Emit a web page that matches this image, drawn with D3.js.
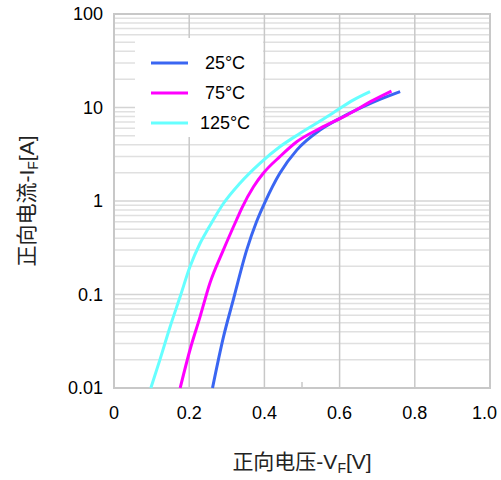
<!DOCTYPE html>
<html>
<head>
<meta charset="utf-8">
<style>
  body { margin: 0; background: #fff; }
  text { font-family: "Liberation Sans", Arial, "Noto Sans CJK SC", sans-serif; }
</style>
</head>
<body>
<div id="chart"></div>
<script src="https://d3js.org/d3.v7.min.js"></script>
<script>
  // forward voltage [V] / forward current [A]
  var v25 = [0.262, 0.291, 0.317, 0.353, 0.379, 0.402, 0.441, 0.486, 0.548, 0.601, 0.663, 0.707, 0.761];
  var i25 = [0.01, 0.035, 0.087, 0.30, 0.60, 0.98, 1.98, 3.5, 5.74, 7.66, 10.2, 12.2, 14.8];

  var v75 = [0.176, 0.202, 0.229, 0.255, 0.291, 0.326, 0.340, 0.371, 0.397, 0.441, 0.486, 0.548, 0.619, 0.690, 0.738];
  var i75 = [0.01, 0.0255, 0.058, 0.132, 0.30, 0.63, 0.84, 1.42, 1.98, 2.98, 4.3, 5.99, 8.3, 12.0, 15.0];

  var v125 = [0.098, 0.122, 0.149, 0.176, 0.202, 0.229, 0.251, 0.269, 0.291, 0.335, 0.388, 0.441, 0.495, 0.574, 0.601, 0.636, 0.681];
  var i125 = [0.01, 0.02, 0.045, 0.095, 0.198, 0.353, 0.51, 0.68, 0.94, 1.55, 2.53, 3.8, 5.3, 8.3, 9.8, 12.0, 14.8];

  var seriesNames = ["25°C", "75°C", "125°C"];
  var seriesColors = ["#3a66f2", "#ff00ff", "#66ffff"];

  var xTicks = [0, 0.2, 0.4, 0.6, 0.8, 1.0];
  var xTickLabels = ["0", "0.2", "0.4", "0.6", "0.8", "1.0"];
  var yTicks = [0.01, 0.1, 1, 10, 100];
  var yTickLabels = ["0.01", "0.1", "1", "10", "100"];

  var series = [
    { name: seriesNames[0], color: seriesColors[0], v: v25, i: i25 },
    { name: seriesNames[1], color: seriesColors[1], v: v75, i: i75 },
    { name: seriesNames[2], color: seriesColors[2], v: v125, i: i125 }
  ];

  var margin = { top: 14, right: 11, bottom: 92, left: 114 },
    width = 501 - margin.left - margin.right,
    height = 480 - margin.top - margin.bottom;

  var svg = d3.select("#chart").append("svg")
    .attr("width", 501)
    .attr("height", 480)
    .append("g")
    .attr("transform", "translate(" + margin.left + "," + margin.top + ")");

  var x = d3.scaleLinear().domain([0, 1]).range([0, width]);
  var y = d3.scaleLog().domain([0.01, 100]).range([height, 0]);

  // minor horizontal grid (2..9 of each decade)
  var minor = [];
  for (var d = 0.01; d < 100; d *= 10) {
    for (var k = 2; k <= 9; k++) minor.push(d * k);
  }
  svg.append("g").selectAll("line")
    .data(minor)
    .enter().append("line")
    .attr("x1", 0).attr("x2", width)
    .attr("y1", function(d) { return y(d); })
    .attr("y2", function(d) { return y(d); })
    .style("stroke", "#e0e0e0")
    .style("stroke-width", 1.5);

  // major horizontal grid
  svg.append("g").selectAll("line")
    .data(yTicks)
    .enter().append("line")
    .attr("x1", 0).attr("x2", width)
    .attr("y1", function(d) { return y(d); })
    .attr("y2", function(d) { return y(d); })
    .style("stroke", "#d4d4d4")
    .style("stroke-width", 1.5);

  // vertical grid
  svg.append("g").selectAll("line")
    .data(xTicks)
    .enter().append("line")
    .attr("x1", function(d) { return x(d); })
    .attr("x2", function(d) { return x(d); })
    .attr("y1", 0).attr("y2", height)
    .style("stroke", "#c8c8c8")
    .style("stroke-width", 1.5);

  // small tick at 0.5
  svg.append("line")
    .attr("x1", x(0.5)).attr("x2", x(0.5))
    .attr("y1", height - 6).attr("y2", height)
    .style("stroke", "#c8c8c8")
    .style("stroke-width", 1.5);

  // frame
  svg.append("rect")
    .attr("x", 0).attr("y", 0)
    .attr("width", width).attr("height", height)
    .style("fill", "none")
    .style("stroke", "#c8c8c8")
    .style("stroke-width", 2);

  // legend background
  svg.append("rect")
    .attr("x", 135 - margin.left).attr("y", 38 - margin.top)
    .attr("width", 128).attr("height", 99)
    .style("fill", "#fff");

  // curves
  var line = d3.line()
    .x(function(p) { return x(p[0]); })
    .y(function(p) { return y(p[1]); })
    .curve(d3.curveMonotoneX);

  svg.selectAll(".curve")
    .data(series)
    .enter().append("path")
    .attr("class", "curve")
    .attr("d", function(s) { return line(d3.zip(s.v, s.i)); })
    .style("fill", "none")
    .style("stroke", function(s) { return s.color; })
    .style("stroke-width", 3);

  // legend
  var lg = svg.append("g").selectAll("g")
    .data(series)
    .enter().append("g")
    .attr("transform", function(s, j) { return "translate(0," + (63 + j * 30 - margin.top) + ")"; });
  lg.append("line")
    .attr("x1", 151 - margin.left).attr("x2", 188 - margin.left)
    .style("stroke", function(s) { return s.color; })
    .style("stroke-width", 3);
  lg.append("text")
    .attr("x", 225 - margin.left)
    .attr("dy", "0.35em")
    .attr("text-anchor", "middle")
    .style("font-size", "18px")
    .text(function(s) { return s.name; });

  // tick labels
  svg.append("g").selectAll("text")
    .data(xTicks)
    .enter().append("text")
    .attr("x", function(d, j) { return j === xTicks.length - 1 ? x(d) + 7 : x(d); })
    .attr("y", height + 31)
    .attr("text-anchor", function(d, j) { return j === xTicks.length - 1 ? "end" : "middle"; })
    .style("font-size", "18px")
    .text(function(d, j) { return xTickLabels[j]; });

  svg.append("g").selectAll("text")
    .data(yTicks)
    .enter().append("text")
    .attr("x", -11)
    .attr("y", function(d) { return y(d); })
    .attr("dy", "0.35em")
    .attr("text-anchor", "end")
    .style("font-size", "18px")
    .text(function(d, j) { return yTickLabels[j]; });

  // axis titles
  var xt = svg.append("text")
    .attr("x", width / 2)
    .attr("y", height + 81)
    .attr("text-anchor", "middle")
    .style("font-size", "21px")
    .style("fill", "#222");
  xt.append("tspan").text("正向电压-V");
  xt.append("tspan").attr("dy", 4).style("font-size", "14px").text("F");
  xt.append("tspan").attr("dy", -4).text("[V]");

  var yt = svg.append("text")
    .attr("transform", "translate(" + (34 - margin.left) + "," + (height / 2) + ") rotate(-90)")
    .attr("text-anchor", "middle")
    .style("font-size", "21px")
    .style("fill", "#222");
  yt.append("tspan").text("正向电流-I");
  yt.append("tspan").attr("dy", 4).style("font-size", "14px").text("F");
  yt.append("tspan").attr("dy", -4).text("[A]");
</script>
</body>
</html>
